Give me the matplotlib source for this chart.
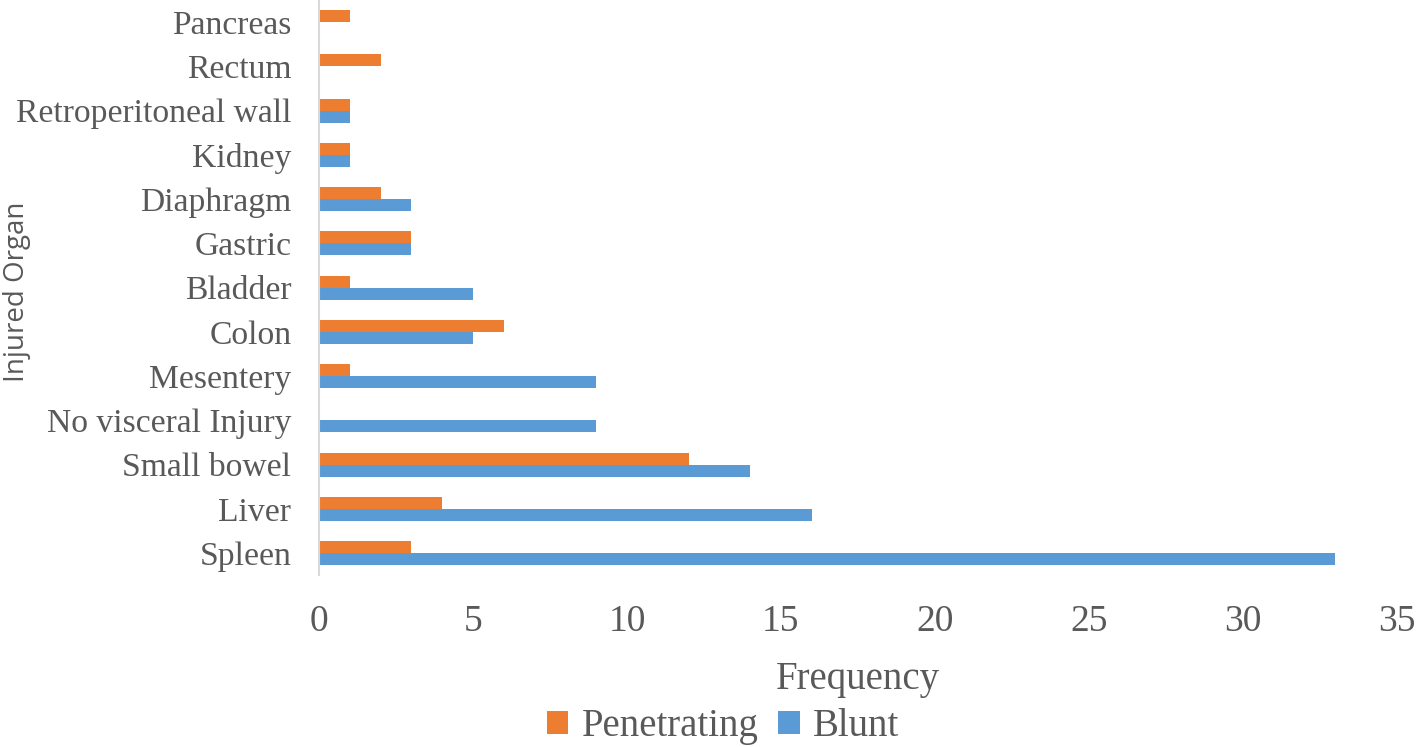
import matplotlib
matplotlib.use("Agg")
import matplotlib.pyplot as plt
import numpy as np

categories = ["Spleen", "Liver", "Small bowel", "No visceral Injury", "Mesentery",
              "Colon", "Bladder", "Gastric", "Diaphragm", "Kidney",
              "Retroperitoneal wall", "Rectum", "Pancreas"]
penetrating = [3, 4, 12, 0, 1, 6, 1, 3, 2, 1, 1, 2, 1]
blunt = [33, 16, 14, 9, 9, 5, 5, 3, 3, 1, 1, 0, 0]
xticks = [0, 5, 10, 15, 20, 25, 30, 35]

TXT = "#595959"
serif = ["Liberation Serif", "DejaVu Serif"]

fig = plt.figure(figsize=(14.18, 7.47), dpi=100)
ax = fig.add_axes([0.225, 0.230, 0.760, 0.770])

y = np.arange(len(categories))
h = 0.27
ax.barh(y - h / 2, blunt, height=h, color="#5B9BD5", label="Blunt")
ax.barh(y + h / 2, penetrating, height=h, color="#ED7D31", label="Penetrating")

ax.set_ylim(-0.5, len(categories) - 0.5)
ax.set_xlim(0, 35)
ax.set_xticks(xticks)
ax.set_xticklabels([str(v) for v in xticks], fontfamily=serif, fontsize=27, color=TXT)
ax.set_yticks(y)
ax.set_yticklabels(categories, fontfamily=serif, fontsize=24.2, color=TXT)
ax.tick_params(axis="both", length=0)
ax.tick_params(axis="y", pad=20)
ax.tick_params(axis="x", pad=21)

for s in ["top", "right", "bottom"]:
    ax.spines[s].set_visible(False)
ax.spines["left"].set_color("#d9d9d9")
ax.spines["left"].set_linewidth(1.5)

ax.set_xlabel("Frequency", fontfamily=serif, fontsize=28, color=TXT, labelpad=16)
fig.text(0.012, 0.61, "Injured Organ", rotation=90, fontfamily=["Open Sans", "DejaVu Sans"],
         fontsize=20, color=TXT, ha="center", va="center")

handles, labels = ax.get_legend_handles_labels()
leg = fig.legend(handles[::-1], labels[::-1], loc="center", bbox_to_anchor=(0.51, 0.027),
                 ncol=2, frameon=False, handlelength=0.55, handleheight=0.55,
                 handletextpad=0.35, columnspacing=0.5,
                 prop={"family": serif, "size": 28})
for t in leg.get_texts():
    t.set_color(TXT)

fig.savefig("out.png", dpi=100, facecolor="white")
